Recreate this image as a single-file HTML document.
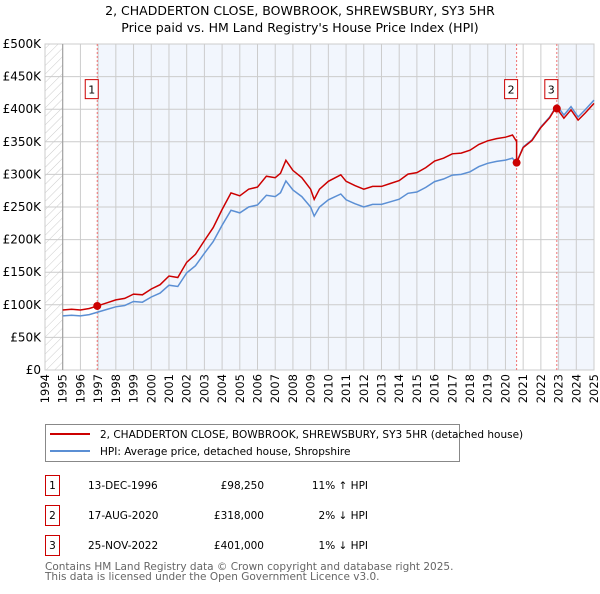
<!DOCTYPE html>
<html><head><meta charset="utf-8">
<style>
body{margin:0;background:#fff;font-family:"DejaVu Sans","Liberation Sans",sans-serif;}
svg text{font-family:"DejaVu Sans","Liberation Sans",sans-serif;}
</style></head>
<body>
<svg id="c" width="600" height="590" xmlns="http://www.w3.org/2000/svg">
<defs><pattern id="hatch" width="6" height="6" patternUnits="userSpaceOnUse" patternTransform="rotate(45)"><line x1="0" y1="0" x2="0" y2="6" stroke="#ccc" stroke-width="1"/></pattern></defs>
<text x="300" y="15" text-anchor="middle" font-size="12.5" fill="#000">2, CHADDERTON CLOSE, BOWBROOK, SHREWSBURY, SY3 5HR</text>
<text x="300" y="32" text-anchor="middle" font-size="12.5" fill="#000">Price paid vs. HM Land Registry's House Price Index (HPI)</text>
<g id="plot"></g>
<g>
<rect x="45.5" y="424.5" width="414" height="37" fill="#fff" stroke="#888"/>
<line x1="50" y1="434" x2="90" y2="434" stroke="#cc0000" stroke-width="2"/>
<text x="100" y="438" font-size="10.5">2, CHADDERTON CLOSE, BOWBROOK, SHREWSBURY, SY3 5HR (detached house)</text>
<line x1="50" y1="451" x2="90" y2="451" stroke="#5b8fd4" stroke-width="2"/>
<text x="100" y="455" font-size="10.5">HPI: Average price, detached house, Shropshire</text>
</g>
<g font-size="10.5">
<rect x="45.5" y="475.5" width="14" height="20" fill="#fff" stroke="#cc0000"/><text x="52.5" y="489" text-anchor="middle">1</text>
<text x="88" y="489">13-DEC-1996</text><text x="264" y="489" text-anchor="end">£98,250</text><text x="368" y="489" text-anchor="end">11% ↑ HPI</text>
<rect x="45.5" y="505.5" width="14" height="20" fill="#fff" stroke="#cc0000"/><text x="52.5" y="519" text-anchor="middle">2</text>
<text x="88" y="519">17-AUG-2020</text><text x="264" y="519" text-anchor="end">£318,000</text><text x="368" y="519" text-anchor="end">2% ↓ HPI</text>
<rect x="45.5" y="535.5" width="14" height="20" fill="#fff" stroke="#cc0000"/><text x="52.5" y="549" text-anchor="middle">3</text>
<text x="88" y="549">25-NOV-2022</text><text x="264" y="549" text-anchor="end">£401,000</text><text x="368" y="549" text-anchor="end">1% ↓ HPI</text>
</g>
<text x="45" y="570" font-size="10.5" fill="#666">Contains HM Land Registry data © Crown copyright and database right 2025.</text>
<text x="45" y="580" font-size="10.5" fill="#666">This data is licensed under the Open Government Licence v3.0.</text>
</svg>
<script>
const hpiYears=[1995,1995.5,1996,1996.5,1997,1997.5,1998,1998.5,1999,1999.5,2000,2000.5,2001,2001.5,2002,2002.5,2003,2003.5,2004,2004.5,2005,2005.5,2006,2006.5,2007,2007.3,2007.6,2008,2008.5,2009,2009.2,2009.5,2010,2010.7,2011,2011.5,2012,2012.5,2013,2013.5,2014,2014.5,2015,2015.5,2016,2016.5,2017,2017.5,2018,2018.5,2019,2019.5,2020,2020.4,2020.6,2021,2021.5,2022,2022.5,2022.9,2023.3,2023.7,2024.1,2024.5,2025];
const hpiValues=[83000,84000,83000,85000,89000,93000,97000,99000,105000,104000,112000,118000,130000,128000,149000,160000,179000,197000,222000,245000,241000,250000,253000,268000,266000,272000,290000,276000,266000,250000,236000,250000,261000,270000,261000,255000,250000,254000,254000,258000,262000,271000,273000,280000,289000,293000,299000,300000,304000,312000,317000,320000,322000,325000,317000,342000,353000,373000,388000,406000,391000,404000,388000,399000,414000];
const saleYears=[1996.95,2020.63,2022.9];
const salePrices=[98250,318000,401000];
const saleLabels=['1','2','3'];
const yTicks=[0,50000,100000,150000,200000,250000,300000,350000,400000,450000,500000];
const yTickLabels=['£0','£50K','£100K','£150K','£200K','£250K','£300K','£350K','£400K','£450K','£500K'];
const xTicks=[1994,1995,1996,1997,1998,1999,2000,2001,2002,2003,2004,2005,2006,2007,2008,2009,2010,2011,2012,2013,2014,2015,2016,2017,2018,2019,2020,2021,2022,2023,2024,2025];

const X0=45,X1=594,Y0=370,Y1=44,T0=1994,T1=2025,V1=500000;
const sx=t=>X0+(t-T0)/(T1-T0)*(X1-X0);
const sy=v=>Y0-v/V1*(Y0-Y1);
const NS='http://www.w3.org/2000/svg';
const g=document.getElementById('plot');
function mk(tag,attrs,parent){const e=document.createElementNS(NS,tag);for(const k in attrs)e.setAttribute(k,attrs[k]);(parent||g).appendChild(e);return e;}
function hpiAt(t){for(let i=1;i<hpiYears.length;i++){if(t<=hpiYears[i]){const f=(t-hpiYears[i-1])/(hpiYears[i]-hpiYears[i-1]);return hpiValues[i-1]+f*(hpiValues[i]-hpiValues[i-1]);}}return hpiValues[hpiValues.length-1];}

let r=mk('rect',{x:X0,y:Y1,width:X1-X0,height:Y0-Y1,fill:'#fff'});


r=mk('rect',{x:X0,y:Y1,width:sx(1995)-X0,height:Y0-Y1,fill:'url(#hatch)'});


const shades=[[saleYears[0],saleYears[1]],[saleYears[2],T1]];
shades.forEach(s=>{const e=mk('rect',{x:sx(s[0]),y:Y1,width:sx(s[1])-sx(s[0]),height:Y0-Y1,fill:'#f2f6fd'});

});
xTicks.forEach(t=>{const l=mk('line',{x1:sx(t),x2:sx(t),y1:Y1,y2:Y0,stroke:'#ccc','stroke-width':1});


const x=sx(t)+4,y=Y0+4;
const tx=mk('text',{x:x,y:y,'text-anchor':'end','font-size':'11.5',fill:'#000',transform:'rotate(-90 '+x+' '+y+')'});tx.textContent=t;

});
yTicks.forEach((v,i)=>{const l=mk('line',{x1:X0,x2:X1,y1:sy(v),y2:sy(v),stroke:'#ccc','stroke-width':1});


const tx=mk('text',{x:X0-4,y:sy(v)+4,'text-anchor':'end','font-size':'12',fill:'#000'});tx.textContent=yTickLabels[i];

});
r=mk('rect',{x:X0,y:Y1,width:X1-X0,height:Y0-Y1,fill:'none',stroke:'#ccc'});


let ax=mk('line',{x1:sx(1995),x2:sx(1995),y1:Y1,y2:Y0,stroke:'#999'});



saleYears.forEach((t,i)=>{const l=mk('line',{x1:sx(t),x2:sx(t),y1:Y1,y2:Y0,stroke:'#f07070','stroke-dasharray':'2,2'});


const bx=mk('rect',{x:sx(t)-12,y:sy(430000)-10,width:13,height:19,fill:'#fff',stroke:'#cc0000'});


const tx=mk('text',{x:sx(t)-5.5,y:sy(430000)+4,'text-anchor':'middle','font-size':'11'});tx.textContent=saleLabels[i];

});

let d='';hpiYears.forEach((t,i)=>{d+=(i?'L':'M')+sx(t).toFixed(1)+','+sy(hpiValues[i]).toFixed(1);});
let p=mk('path',{d:d,fill:'none',stroke:'#5b8fd4','stroke-width':1.5});


d='';let first=true;
hpiYears.forEach((t,i)=>{let k=0;for(let j=0;j<saleYears.length;j++)if(t>=saleYears[j])k=j;const ratio=salePrices[k]/hpiAt(saleYears[k]);
if(k>0&&t>=saleYears[k]&&hpiYears[i-1]<saleYears[k]){const pr=salePrices[k-1]/hpiAt(saleYears[k-1]);d+='L'+sx(saleYears[k]).toFixed(1)+','+sy(hpiAt(saleYears[k])*pr).toFixed(1)+'L'+sx(saleYears[k]).toFixed(1)+','+sy(salePrices[k]).toFixed(1);}
d+=(first?'M':'L')+sx(t).toFixed(1)+','+sy(hpiValues[i]*ratio).toFixed(1);first=false;});
p=mk('path',{d:d,fill:'none',stroke:'#cc0000','stroke-width':1.5});


saleYears.forEach((t,i)=>{const c=mk('circle',{cx:sx(t),cy:sy(salePrices[i]),r:4,fill:'#cc0000'});

});
</script>
</body></html>
